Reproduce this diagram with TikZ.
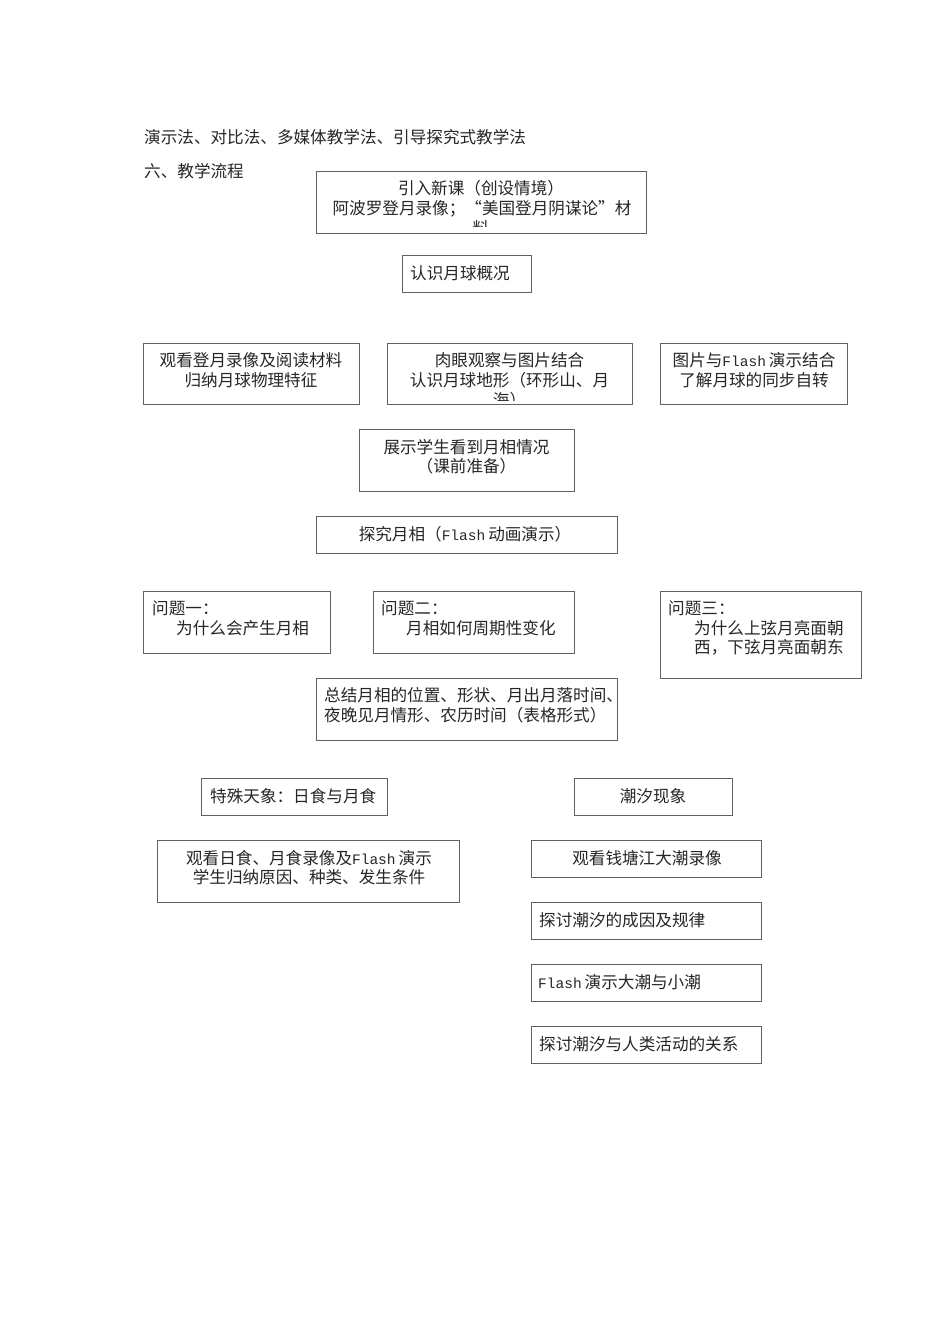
\documentclass[tikz,border=0pt]{standalone}
\usepackage{fontspec}
\setmainfont{Noto Sans CJK SC}
\newfontfamily\flfont{Liberation Mono}
\newcommand{\fl}[1]{{\flfont\fontsize{14.5}{16}\selectfont #1}\hspace{3pt}}
\newcommand{\bx}[5]{\node[boxstyle, minimum width={(#4-#2)*1pt}, minimum height={(#5-#3)*1pt}] (#1) at (#2,#3) {};}
\tikzset{
  boxstyle/.style={draw=black!62, line width=0.8pt, inner sep=0pt, outer sep=0pt, anchor=north west},
  txt/.style={inner sep=0pt, font=\fontsize{16.6}{19}\selectfont, text=black!85},
  cl/.style={txt, anchor=base},
  ll/.style={txt, anchor=base west}
}
\begin{document}
\begin{tikzpicture}[x=1pt,y=-1pt]
\useasboundingbox[fill=white] (0,0) rectangle (950,1344);

% heading texts
\node[ll] (h1) at (144,143) {演示法、对比法、多媒体教学法、引导探究式教学法};
\node[ll] (h2) at (144,177) {六、教学流程};

% box 1
\bx{b1}{316}{171}{646}{233}
\node[cl] (b1a) at (481,194) {引入新课（创设情境）};
\node[cl] (b1b) at (482,214) {阿波罗登月录像；“美国登月阴谋论”材};
\begin{scope}
\clip (316,171) rectangle (646,226);
\node[cl] (b1c) at (481,234) {料};
\end{scope}

% box 2
\bx{b2}{402}{255}{531}{292}
\node[ll] (b2a) at (410,279) {认识月球概况};

% row of three
\bx{b3}{143}{343}{359}{404}
\node[cl] (b3a) at (251,366) {观看登月录像及阅读材料};
\node[cl] (b3b) at (251,386) {归纳月球物理特征};

\bx{b4}{387}{343}{632}{404}
\node[cl] (b4a) at (509.5,366) {肉眼观察与图片结合};
\node[cl] (b4b) at (509.5,386) {认识月球地形（环形山、月};
\begin{scope}
\clip (387,343) rectangle (632,400);
\node[cl] (b4c) at (509.5,406) {海）};
\end{scope}

\bx{b5}{660}{343}{847}{404}
\node[cl] (b5a) at (754,366) {图片与\fl{Flash}演示结合};
\node[cl] (b5b) at (754,386) {了解月球的同步自转};

% box 6
\bx{b6}{359}{429}{574}{491}
\node[cl] (b6a) at (466.5,453) {展示学生看到月相情况};
\node[cl] (b6b) at (466.5,472) {（课前准备）};

% box 7
\bx{b7}{316}{516}{617}{553}
\node[cl] (b7a) at (465,540) {探究月相（\fl{Flash}动画演示）};

% questions
\bx{b8}{143}{591}{330}{653}
\node[ll] (b8a) at (152,614) {问题一：};
\node[ll] (b8b) at (176,634) {为什么会产生月相};

\bx{b9}{373}{591}{574}{653}
\node[ll] (b9a) at (381,614) {问题二：};
\node[ll] (b9b) at (406,634) {月相如何周期性变化};

\bx{b10}{660}{591}{861}{678}
\node[ll] (b10a) at (668,614) {问题三：};
\node[ll] (b10b) at (694,634) {为什么上弦月亮面朝};
\node[ll] (b10c) at (694,653) {西，下弦月亮面朝东};

% summary
\bx{b11}{316}{678}{617}{740}
\node[ll] (b11a) at (324,701) {总结月相的位置、形状、月出月落时间、};
\node[ll] (b11b) at (324,721) {夜晚见月情形、农历时间（表格形式）};

% eclipses
\bx{b12}{201}{778}{387}{815}
\node[ll] (b12a) at (210,802) {特殊天象：日食与月食};

\bx{b14}{157}{840}{459}{902}
\node[cl] (b14a) at (309,864) {观看日食、月食录像及\fl{Flash}演示};
\node[cl] (b14b) at (309,883) {学生归纳原因、种类、发生条件};

% tides
\bx{b13}{574}{778}{732}{815}
\node[cl] (b13a) at (653,802) {潮汐现象};

\bx{b15}{531}{840}{761}{877}
\node[cl] (b15a) at (647,864) {观看钱塘江大潮录像};

\bx{b16}{531}{902}{761}{939}
\node[ll] (b16a) at (539,926) {探讨潮汐的成因及规律};

\bx{b17}{531}{964}{761}{1001}
\node[ll] (b17a) at (538,988) {\fl{Flash}演示大潮与小潮};

\bx{b18}{531}{1026}{761}{1063}
\node[ll] (b18a) at (539,1050) {探讨潮汐与人类活动的关系};
\end{tikzpicture}
\end{document}
